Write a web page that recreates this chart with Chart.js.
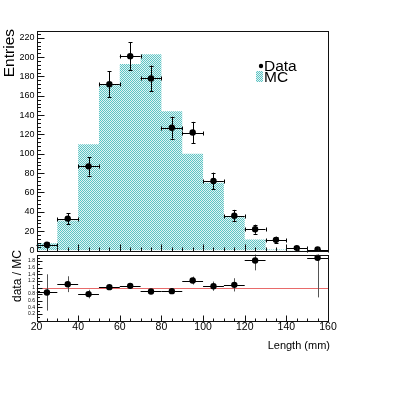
<!DOCTYPE html>
<html lang="en">
<head>
<meta charset="UTF-8">
<title>length</title>
<script src="https://cdn.jsdelivr.net/npm/chart.js@4.4.1/dist/chart.umd.min.js"></script>
<style>
    body { margin: 0; padding: 0; background: #fff; width: 407px; height: 393px; overflow: hidden; }
    canvas { position: absolute; left: 0; }
    #top { top: 0; }
    #bottom { top: 244px; }
</style>
</head>
<body>
<canvas id="top" width="407" height="262"></canvas>
<canvas id="bottom" width="407" height="149"></canvas>
<script>
    // bins (mm)
    const binEdges = [20, 30, 40, 50, 60, 70, 80, 90, 100, 110, 120, 130, 140, 150, 160];
    const binCenters = [25, 35, 45, 55, 65, 75, 85, 95, 105, 115, 125, 135, 145, 155];
    const mcCounts = [7.5, 31, 110, 171, 193, 203, 144, 100, 70, 34.5, 11.5, 1, 0.5, 0.5];
    const dataCounts = [6, 33, 87, 172, 201, 178, 127, 122, 72, 36, 22, 11, 2.5, 1];
    const dataErr = [2.5, 5.7, 9.5, 13.2, 14.2, 13.3, 11.3, 11, 8.5, 6, 4.7, 3.3, 1.6, 1];
    // ratio panel (null = off scale)
    const ratioVals = [0.85, 1.10, 0.80, 1.01, 1.05, 0.88, 0.89, 1.21, 1.04, 1.08, 1.82, null, null, 1.90];
    const ratioErr = [0.55, 0.24, 0.13, 0.08, 0.08, 0.07, 0.08, 0.12, 0.14, 0.2, 0.3, null, null, 1.2];
    // tick labels
    const yTicksTop = [0, 20, 40, 60, 80, 100, 120, 140, 160, 180, 200, 220];
    const xTickLabels = [20, 40, 60, 80, 100, 120, 140, 160];
    const ratioTickLabels = [0.2, 0.4, 0.6, 0.8, 1, 1.2, 1.4, 1.6, 1.8];

    const FONT = 'Liberation Sans, Arial, sans-serif';

    function makeHatch(target) {
        const c = document.createElement('canvas');
        c.width = 2; c.height = 2;
        const g = c.getContext('2d');
        g.fillStyle = '#e2f4f4';
        g.fillRect(0, 0, 2, 2);
        g.fillStyle = '#5cc4c4';
        g.fillRect(0, 0, 1, 1);
        g.fillRect(1, 1, 1, 1);
        return target.getContext('2d').createPattern(c, 'repeat');
    }

    const topCanvas = document.getElementById('top');
    const hatch = makeHatch(topCanvas);

    // MC histogram as step line: value held from left edge to next edge
    const mcPoints = binEdges.map((e, i) => ({x: e, y: mcCounts[Math.min(i, mcCounts.length - 1)]}));
    const dataPoints = binCenters.map((c, i) => ({x: c, y: dataCounts[i]}));
    const ratioPoints = binCenters.map((c, i) => ({x: c, y: ratioVals[i]}));

    function px(v) { return Math.round(v) + 0.5; }

    function drawFrameAndTicks(chart, o) {
        const {ctx, chartArea: a, scales: {x, y}} = chart;
        ctx.save();
        ctx.strokeStyle = '#111';
        ctx.lineWidth = 1;
        const L = px(a.left), R = px(a.right), T = px(a.top), B = px(a.bottom);
        ctx.strokeRect(L, T, R - L, B - T);
        ctx.beginPath();
        for (let v = 20; v <= 160; v += 5) {
            const xx = px(x.getPixelForValue(v));
            const len = v % 20 === 0 ? o.xMajor : o.xMinor;
            ctx.moveTo(xx, B);
            ctx.lineTo(xx, B - len);
        }
        for (let k = 0; k * o.yMinorStep <= y.max + 1e-9; k++) {
            const v = k * o.yMinorStep;
            const yy = px(y.getPixelForValue(v));
            const len = (k % o.yPerMajor === 0) ? o.yMajor : o.yMinor;
            ctx.moveTo(L, yy);
            ctx.lineTo(L + len, yy);
        }
        ctx.stroke();
        ctx.restore();
    }

    function vText(ctx, text, x, y, size) {
        ctx.save();
        ctx.translate(x, y);
        ctx.rotate(-Math.PI / 2);
        ctx.font = size + 'px ' + FONT;
        ctx.fillStyle = '#000';
        ctx.textAlign = 'right';
        ctx.textBaseline = 'middle';
        ctx.fillText(text, 0, 0);
        ctx.restore();
    }

    const topDecor = {
        id: 'topDecor',
        afterDatasetsDraw(chart) {
            const {ctx, scales: {x, y}} = chart;
            ctx.save();
            ctx.strokeStyle = '#000';
            ctx.lineWidth = 1;
            ctx.beginPath();
            binCenters.forEach((c, i) => {
                const cx = x.getPixelForValue(c);
                const cy = y.getPixelForValue(dataCounts[i]);
                const x0 = x.getPixelForValue(binEdges[i]);
                const x1 = x.getPixelForValue(binEdges[i + 1]);
                const y0 = y.getPixelForValue(Math.max(0, dataCounts[i] - dataErr[i]));
                const y1 = y.getPixelForValue(dataCounts[i] + dataErr[i]);
                const yy = px(cy), xx = px(cx);
                ctx.moveTo(x0, yy); ctx.lineTo(x1, yy);
                ctx.moveTo(xx, y0); ctx.lineTo(xx, y1);
                // small end caps
                ctx.moveTo(xx - 2, px(y1)); ctx.lineTo(xx + 2, px(y1));
                ctx.moveTo(xx - 2, px(y0)); ctx.lineTo(xx + 2, px(y0));
                ctx.moveTo(px(x0), yy - 2); ctx.lineTo(px(x0), yy + 2);
                ctx.moveTo(px(x1), yy - 2); ctx.lineTo(px(x1), yy + 2);
            });
            ctx.stroke();
            ctx.restore();
        },
        afterDraw(chart) {
            const ctx = chart.ctx;
            drawFrameAndTicks(chart, {xMajor: 7, xMinor: 4, yMajor: 7, yMinor: 3.5, yMinorStep: 4, yPerMajor: 5});
            vText(ctx, 'Entries', 10, 29, 15.5);
            // legend
            ctx.save();
            ctx.fillStyle = '#000';
            ctx.beginPath();
            ctx.arc(261, 66, 2.2, 0, Math.PI * 2);
            ctx.fill();
            ctx.fillStyle = hatch;
            ctx.fillRect(256, 71, 7, 11);
            ctx.fillStyle = '#000';
            ctx.font = '15.5px ' + FONT;
            ctx.textBaseline = 'alphabetic';
            ctx.fillText('Data', 264, 71);
            ctx.fillText('MC', 264, 82);
            ctx.restore();
        }
    };

    new Chart(topCanvas, {
        type: 'line',
        data: {
            datasets: [{
                label: 'MC',
                data: mcPoints,
                stepped: true,
                fill: 'origin',
                backgroundColor: hatch,
                borderColor: 'rgba(0,0,0,0)',
                borderWidth: 0,
                pointRadius: 0,
                order: 2
            }, {
                label: 'Data',
                data: dataPoints,
                showLine: false,
                pointRadius: 3.2,
                pointBackgroundColor: '#000',
                pointBorderColor: '#000',
                pointBorderWidth: 0,
                order: 1
            }]
        },
        options: {
            responsive: false,
            animation: false,
            devicePixelRatio: 1,
            layout: {padding: {top: 31, right: 79, left: 0, bottom: 0}},
            plugins: {legend: {display: false}, tooltip: {enabled: false}},
            scales: {
                x: {
                    type: 'linear', min: 20, max: 160,
                    grid: {display: false}, border: {display: false},
                    ticks: {display: false},
                    afterFit(s) { s.height = 11.5; }
                },
                y: {
                    min: 0, max: 227,
                    grid: {display: false, drawTicks: false}, border: {display: false},
                    afterBuildTicks(s) { s.ticks = yTicksTop.map(v => ({value: v})); },
                    ticks: {font: {family: FONT, size: 9}, color: '#000', padding: 2, autoSkip: false},
                    afterFit(s) { s.width = 36.5; }
                }
            }
        },
        plugins: [topDecor]
    });

    const bottomDecor = {
        id: 'bottomDecor',
        beforeDatasetsDraw(chart) {
            const {ctx, chartArea: a, scales: {x, y}} = chart;
            ctx.save();
            ctx.beginPath();
            ctx.rect(a.left, a.top, a.right - a.left, a.bottom - a.top);
            ctx.clip();
            // reference line at 1
            ctx.strokeStyle = '#e86a6a';
            ctx.lineWidth = 1;
            ctx.beginPath();
            const y1 = px(y.getPixelForValue(1));
            ctx.moveTo(x.getPixelForValue(20), y1);
            ctx.lineTo(x.getPixelForValue(160), y1);
            ctx.stroke();
            binCenters.forEach((c, i) => {
                if (ratioVals[i] === null) return;
                const xx = px(x.getPixelForValue(c));
                const yy = px(y.getPixelForValue(ratioVals[i]));
                ctx.strokeStyle = '#000';
                ctx.beginPath();
                ctx.moveTo(x.getPixelForValue(binEdges[i]), yy);
                ctx.lineTo(x.getPixelForValue(binEdges[i + 1]), yy);
                ctx.stroke();
                ctx.strokeStyle = '#555';
                ctx.beginPath();
                ctx.moveTo(xx, y.getPixelForValue(ratioVals[i] - ratioErr[i]));
                ctx.lineTo(xx, y.getPixelForValue(ratioVals[i] + ratioErr[i]));
                ctx.stroke();
            });
            ctx.restore();
        },
        afterDraw(chart) {
            const ctx = chart.ctx;
            drawFrameAndTicks(chart, {xMajor: 6, xMinor: 3, yMajor: 5, yMinor: 2.5, yMinorStep: 0.1, yPerMajor: 2});
            vText(ctx, 'data / MC', 18, 6, 12);
            ctx.save();
            ctx.font = '11px ' + FONT;
            ctx.fillStyle = '#000';
            ctx.textAlign = 'right';
            ctx.textBaseline = 'middle';
            ctx.fillText('Length (mm)', 330, 102);
            ctx.restore();
        }
    };

    new Chart(document.getElementById('bottom'), {
        type: 'line',
        data: {
            datasets: [{
                label: 'data / MC',
                data: ratioPoints,
                showLine: false,
                pointRadius: 3.2,
                pointBackgroundColor: '#000',
                pointBorderColor: '#000',
                pointBorderWidth: 0
            }]
        },
        options: {
            responsive: false,
            animation: false,
            devicePixelRatio: 1,
            layout: {padding: {top: 10.5, right: 79, left: 0, bottom: 0}},
            plugins: {legend: {display: false}, tooltip: {enabled: false}},
            scales: {
                x: {
                    type: 'linear', min: 20, max: 160,
                    grid: {display: false, drawTicks: false}, border: {display: false},
                    afterBuildTicks(s) { s.ticks = xTickLabels.map(v => ({value: v})); },
                    ticks: {font: {family: FONT, size: 10.5}, color: '#000', padding: 0, maxRotation: 0, autoSkip: false},
                    afterFit(s) { s.height = 72.5; }
                },
                y: {
                    min: 0, max: 2,
                    grid: {display: false, drawTicks: false}, border: {display: false},
                    afterBuildTicks(s) { s.ticks = ratioTickLabels.map(v => ({value: v})); },
                    ticks: {
                        font: {family: FONT, size: 5}, color: '#000', padding: 1.5, autoSkip: false,
                        callback: v => (v === 1 ? '1' : v.toFixed(1))
                    },
                    afterFit(s) { s.width = 36.5; }
                }
            }
        },
        plugins: [bottomDecor]
    });
</script>
</body>
</html>
